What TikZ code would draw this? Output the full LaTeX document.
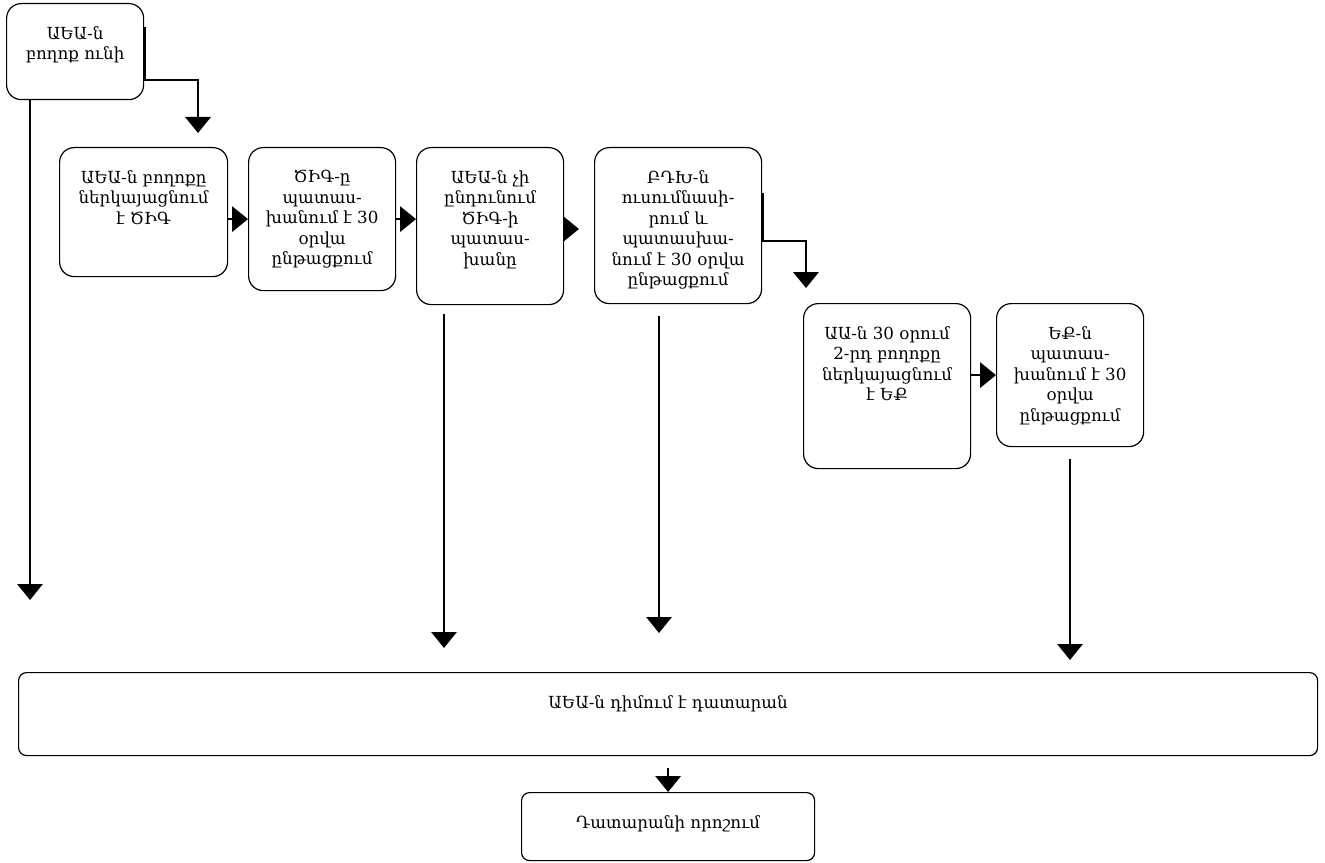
\documentclass[tikz,border=0pt]{standalone}
\usepackage{fontspec}
\setmainfont{DejaVu Serif}
\usetikzlibrary{arrows.meta}

\newdimen\pxu
\pxu=0.75pt
\newcommand{\boxtext}[3]{\parbox[c][#2\pxu][t]{#1\pxu}{\centering\vspace*{17pt}#3\par}}

\begin{document}
\begin{tikzpicture}[x=0.75pt, y=-0.75pt]
  \tikzset{
    stepbox/.style={
      draw,
      line width=0.9pt,
      rounded corners=11pt,
      inner sep=0pt,
      anchor=north west,
      font=\fontsize{12.5}{15.4}\selectfont
    },
    elbow/.style={
      draw,
      line width=2pt,
      -{Triangle[width=19pt,length=12pt]}
    },
    longline/.style={
      elbow,
      line width=1.6pt
    }
  }
  \useasboundingbox (0,0) rectangle (1325,863);

  \node[stepbox] (appeal) at (6,3) {\boxtext{137}{96}{ԱԵԱ-ն\\բողոք ունի}};
  \node[stepbox] (submit) at (59,147) {\boxtext{168}{129}{ԱԵԱ-ն բողոքը\\ներկայացնում\\է ԾԻԳ}};
  \node[stepbox] (cigreply) at (248,147) {\boxtext{147}{143}{ԾԻԳ-ը\\պատաս-\\խանում է 30\\օրվա\\ընթացքում}};
  \node[stepbox] (reject) at (416,147) {\boxtext{147}{157}{ԱԵԱ-ն չի\\ընդունում\\ԾԻԳ-ի\\պատաս-\\խանը}};
  \node[stepbox] (bdkreply) at (594,147) {\boxtext{167}{156}{ԲԴԽ-ն\\ուսումնասի-\\րում և\\պատասխա-\\նում է 30 օրվա\\ընթացքում}};
  \node[stepbox] (second) at (803,303) {\boxtext{167}{165}{ԱԱ-ն 30 օրում\\2-րդ բողոքը\\ներկայացնում\\է ԵՔ}};
  \node[stepbox] (ekreply) at (996,303) {\boxtext{147}{143}{ԵՔ-ն\\պատաս-\\խանում է 30\\օրվա\\ընթացքում}};
  \node[stepbox, rounded corners=6pt] (court) at (18,672) {\boxtext{1299}{83}{ԱԵԱ-ն դիմում է դատարան}};
  \node[stepbox, rounded corners=6pt] (ruling) at (521,792) {\boxtext{293}{68}{Դատարանի որոշում}};

  \coordinate (tipsubmit) at (198,133);
  \coordinate (tipleft) at (30,600);
  \coordinate (tipreject) at (444,648);
  \coordinate (tipbdk) at (579,229);
  \coordinate (tipsecond) at (806,288);
  \coordinate (tipbdkdown) at (659,633);
  \coordinate (tipek) at (1070,660);

  \draw[elbow] (appeal.north east) ++(0,24) -- ++(0,53) -| (tipsubmit);
  \draw[elbow] (submit.east |- cigreply.west) -- (cigreply.west);
  \draw[elbow] (cigreply.east) -- (cigreply.east -| reject.west);
  \draw[elbow] (reject.east |- tipbdk) -- (tipbdk);
  \draw[elbow] (bdkreply.north east) ++(0,46) -- ++(0,48) -| (tipsecond);
  \draw[elbow] (second.east |- ekreply.west) -- (ekreply.west);
  \draw[elbow] (court.south) ++(0,12) -- (ruling.north);

  \draw[longline] (appeal.south -| tipleft) -- (tipleft);
  \draw[longline] (reject.south -| tipreject) ++(0,9) -- (tipreject);
  \draw[longline] (bdkreply.south -| tipbdkdown) ++(0,12) -- (tipbdkdown);
  \draw[longline] (ekreply.south -| tipek) ++(0,12) -- (tipek);

\end{tikzpicture}
\end{document}
